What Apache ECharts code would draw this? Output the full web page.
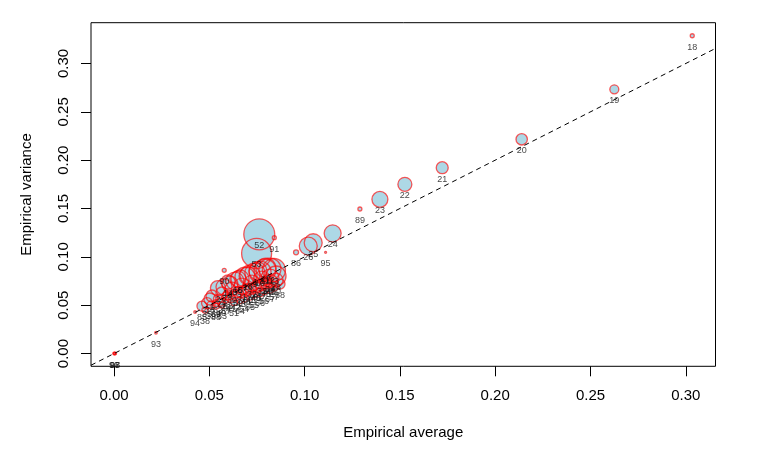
<!DOCTYPE html>
<html>
<head>
    <meta charset="utf-8">
    <title>Empirical variance vs average</title>
    <script src="https://cdn.jsdelivr.net/npm/echarts@6/dist/echarts.min.js"></script>
</head>
<body style="margin:0;background:#fff;">
    <div id="container" style="width:761px;height:459px;"></div>
    <script type="text/javascript">
        // one entry per group: label, empirical average, empirical variance, circle weight
        var ids = [18, 19, 20, 21, 22, 23, 89, 24, 25, 26, 86, 95, 52, 53, 91, 90, 94, 93, 96, 97, 98,
            1, 2, 3, 4, 5, 6, 7, 8, 9, 10, 11, 12, 13, 14, 15, 16, 17, 27, 28, 29, 30, 31, 32, 33, 34, 35, 36,
            85, 88, 87, 99,
            38, 39, 40, 41, 42, 43, 44, 45, 46, 47, 48, 49, 50, 51, 54, 55, 56, 57, 58, 59, 60, 61, 62, 63,
            64, 65, 66, 67, 68, 69, 70];
        var avgs = [0.3034, 0.2625, 0.2139, 0.1722, 0.1526, 0.1395, 0.1290, 0.1147, 0.1045, 0.1019, 0.0955, 0.1110,
            0.0762, 0.0748, 0.0841, 0.0578, 0.0425, 0.0220, 0.0000, 0.0003, 0.0006,
            0.0514, 0.0545, 0.0577, 0.0608, 0.0634, 0.0661, 0.0687, 0.0713, 0.0739, 0.0766, 0.0792, 0.0818, 0.0839,
            0.0598, 0.0650, 0.0703, 0.0755, 0.0797, 0.0850, 0.0566, 0.0619, 0.0671, 0.0724, 0.0776, 0.0818, 0.0488, 0.0503,
            0.0461, 0.0535, 0.0587, 0.0808,
            0.0477, 0.0509, 0.0561, 0.0613, 0.0640, 0.0666, 0.0692, 0.0718, 0.0745, 0.0771, 0.0797, 0.0823, 0.0850,
            0.0629, 0.0682, 0.0734, 0.0787, 0.0839, 0.0598, 0.0650, 0.0703, 0.0755, 0.0545, 0.0566,
            0.0661, 0.0713, 0.0766, 0.0818, 0.0871, 0.0535, 0.0587];
        var vars = [0.3287, 0.2733, 0.2216, 0.1922, 0.1750, 0.1595, 0.1495, 0.1243, 0.1146, 0.1112, 0.1047, 0.1047,
            0.1233, 0.1036, 0.1198, 0.0861, 0.0429, 0.0215, 0.0000, 0.0000, 0.0000,
            0.0595, 0.0677, 0.0688, 0.0719, 0.0750, 0.0771, 0.0791, 0.0812, 0.0833, 0.0843, 0.0864, 0.0874, 0.0864,
            0.0740, 0.0771, 0.0802, 0.0853, 0.0884, 0.0802, 0.0626, 0.0667, 0.0698, 0.0729, 0.0760, 0.0781, 0.0522, 0.0564,
            0.0491, 0.0491, 0.0553, 0.0765,
            0.0450, 0.0502, 0.0533, 0.0574, 0.0595, 0.0626, 0.0646, 0.0667, 0.0688, 0.0709, 0.0729, 0.0750, 0.0760,
            0.0533, 0.0574, 0.0615, 0.0657, 0.0698, 0.0605, 0.0636, 0.0667, 0.0698, 0.0564, 0.0502,
            0.0553, 0.0595, 0.0636, 0.0677, 0.0719, 0.0522, 0.0595];
        var weights = [2, 4.5, 5.7, 6, 7, 8, 2, 8.5, 9, 9, 2.5, 1, 15.5, 15, 2, 2, 1.3, 1.3, 1.3, 1.3, 1.3,
            6, 7.5, 8, 8, 9, 9, 10, 10, 10, 11, 11, 11, 11.5, 7, 8, 9, 9, 10, 10, 6, 7, 8, 8, 9, 9, 5.5, 6,
            5, 3, 3, 5,
            3, 4, 4, 4.5, 5, 5, 5.5, 5.5, 6, 6, 6, 6.5, 7, 3.5, 4, 4, 4.5, 5, 5, 5.5, 6, 6, 4.5, 3,
            3.5, 4, 4.5, 5, 5, 3.5, 4];
        var xTicks = [0, 0.05, 0.10, 0.15, 0.20, 0.25, 0.30];
        var yTicks = [0, 0.05, 0.10, 0.15, 0.20, 0.25, 0.30];
        var refLine = [[-0.05, -0.05], [0.4, 0.4]];   // y = x

        var points = ids.map(function (id, i) {
            return [avgs[i], vars[i], weights[i], id];
        });

        var myChart = echarts.init(document.getElementById('container'));
        var font = 'Liberation Sans, Arial, Helvetica, sans-serif';

        var option = {
            animation: false,
            backgroundColor: '#fff',
            grid: {
                left: 91, right: 45.5, top: 22.7, bottom: 92.7,
                show: true, borderColor: '#000', borderWidth: 1, backgroundColor: 'transparent'
            },
            xAxis: {
                type: 'value',
                min: -0.0121, max: 0.3156,
                name: 'Empirical average',
                nameLocation: 'middle',
                nameGap: 59,
                nameTextStyle: { fontFamily: font, fontSize: 15, color: '#000' },
                axisLine: { show: false, onZero: false },
                splitLine: { show: false },
                axisTick: { show: true, customValues: xTicks, length: 10, lineStyle: { color: '#000' } },
                axisLabel: {
                    customValues: xTicks, margin: 22, fontFamily: font, fontSize: 15, color: '#000',
                    formatter: function (v) { return v.toFixed(2); }
                }
            },
            yAxis: {
                type: 'value',
                min: -0.0132, max: 0.3422,
                name: 'Empirical variance',
                nameLocation: 'middle',
                nameGap: 57,
                nameTextStyle: { fontFamily: font, fontSize: 15, color: '#000' },
                axisLine: { show: false, onZero: false },
                splitLine: { show: false },
                axisTick: { show: true, customValues: yTicks, length: 10, lineStyle: { color: '#000' } },
                axisLabel: {
                    customValues: yTicks, rotate: 90, margin: 20, fontFamily: font, fontSize: 15, color: '#000',
                    formatter: function (v) { return v.toFixed(2); }
                }
            },
            series: [
                {
                    // circle fills
                    type: 'scatter',
                    z: 2,
                    silent: true,
                    data: points,
                    symbolSize: function (d) { return 2 * d[2]; },
                    itemStyle: { color: '#ADD8E6', opacity: 1 }
                },
                {
                    // red outlines and group labels
                    type: 'scatter',
                    z: 3,
                    silent: true,
                    data: points,
                    symbolSize: function (d) { return 2 * d[2]; },
                    itemStyle: { color: 'rgba(0,0,0,0)', borderColor: 'rgba(255,0,0,0.8)', borderWidth: 1.3 },
                    label: {
                        show: true,
                        position: 'inside',
                        offset: [0, 11.5],
                        fontFamily: font,
                        fontSize: 9,
                        color: '#111',
                        formatter: function (p) { return p.data[3]; }
                    }
                },
                {
                    type: 'line',
                    z: 4,
                    silent: true,
                    data: refLine,
                    symbol: 'none',
                    clip: true,
                    lineStyle: { color: '#000', width: 1, type: [5, 4] }
                }
            ]
        };

        myChart.setOption(option);
    </script>
</body>
</html>
